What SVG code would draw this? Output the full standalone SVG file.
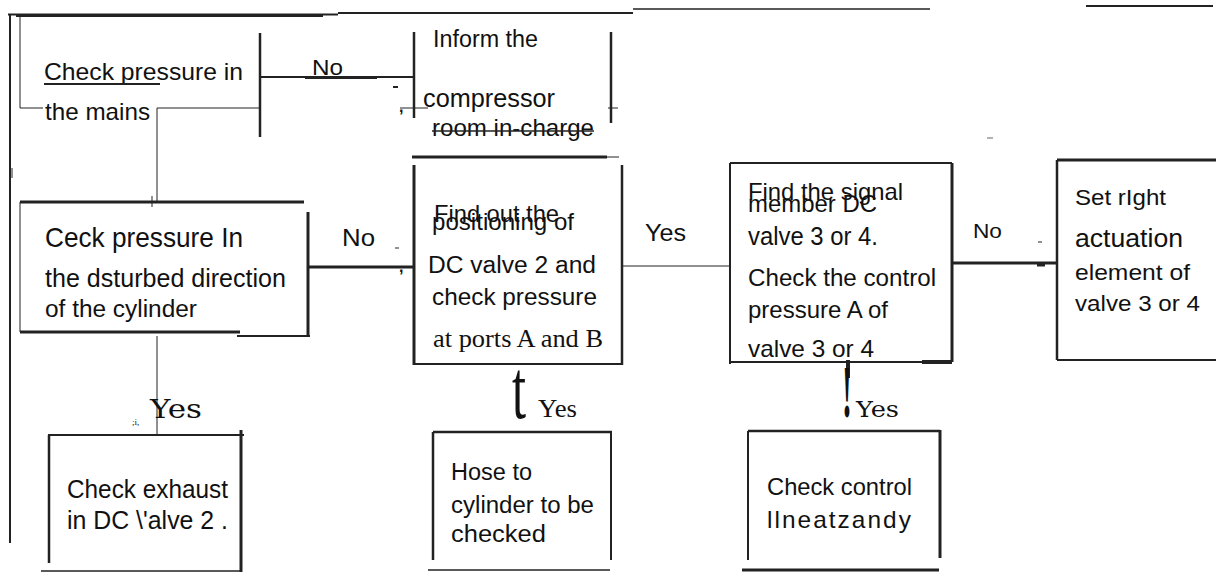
<svg xmlns="http://www.w3.org/2000/svg" width="1218" height="572" viewBox="0 0 1218 572">
  <style>
    .ln { stroke: #222; fill: none; stroke-linecap: butt; }
    .t { font-family: "Liberation Sans", Arial, sans-serif; fill: #111; }
    .s { font-family: "Liberation Serif", "Times New Roman", serif; fill: #111; }
    .m { font-family: "DejaVu Serif", "Liberation Serif", serif; fill: #111; }
  </style>
  <rect width="1218" height="572" fill="#fff"/>

  <!-- connectors and frame lines -->
  <g id="connectors" class="ln">
    <path d="M8 14.5 H338" stroke-width="2"/>
    <path d="M16 15.5 H323" stroke-width="3"/>
    <path d="M338 13 H633" stroke-width="2"/>
    <path d="M633 9 H930" stroke-width="1.5"/>
    <path d="M1086 6 H1213" stroke-width="2"/>
    <path d="M10 14 V543" stroke-width="2"/>
    <path d="M12 168 V178" stroke-width="1"/>
    <!-- mains loop -->
    <path d="M20 16 V108 H43" stroke-width="1"/>
    <path d="M260 108 H157 V202" stroke-width="1"/>
    <path d="M152 196 V207" stroke-width="1"/>
    <!-- No: mains to inform -->
    <path d="M260 77 H414" stroke-width="2"/>
    <path d="M305 77.5 H377" stroke-width="3"/>
    <path d="M400 108 H428" stroke-width="1"/>
    <path d="M608 108 H618" stroke-width="1"/>
    <path d="M393 87 H398" stroke-width="2"/>
    <!-- No: ceck to findout -->
    <path d="M308 267 H414" stroke-width="3"/>
    <path d="M395 248 H399" stroke-width="1"/>
    <!-- Yes: ceck to exhaust -->
    <path d="M157 336 V435" stroke-width="1"/>
    <!-- Yes: findout to signal -->
    <path d="M622 266 H730" stroke-width="1"/>
    <!-- No: signal to setright -->
    <path d="M952 263 H1057" stroke-width="3"/>
    <path d="M1037 265 H1045" stroke-width="3"/>
    <path d="M1038 242 H1042" stroke-width="1"/>
    <path d="M987 138 H993" stroke="#999" stroke-width="1.5"/>
    <!-- signal to control -->
    <path d="M848 360 V378" stroke-width="4"/>
  </g>

  <g id="node-mains">
    <path class="ln" d="M260 33 V137" stroke-width="2.5"/>
    <text class="t" x="44" y="80" font-size="24" textLength="199" lengthAdjust="spacingAndGlyphs">Check pressure in</text>
    <path class="ln" d="M44 84 H160" stroke-width="2"/>
    <text class="t" x="45" y="120" font-size="24" textLength="105" lengthAdjust="spacingAndGlyphs">the mains</text>
    <text class="t" x="312" y="75" font-size="22" textLength="31" lengthAdjust="spacingAndGlyphs">No</text>
    <text class="t" x="399" y="112" font-size="16" font-weight="bold">,</text>
  </g>

  <g id="node-inform">
    <path class="ln" d="M414 32 V118" stroke-width="2.5"/>
    <path class="ln" d="M611 32 V123" stroke-width="2.5"/>
    <path class="ln" d="M412 157 H607" stroke-width="3" stroke="#000"/>
    <path class="ln" d="M607 157 H619" stroke-width="1"/>
    <text class="t" x="433" y="47" font-size="23" textLength="105" lengthAdjust="spacingAndGlyphs">Inform the</text>
    <text class="t" x="423" y="107" font-size="25" fill="#333" textLength="132" lengthAdjust="spacingAndGlyphs">compressor</text>
    <text class="t" x="432" y="136" font-size="24" textLength="162" lengthAdjust="spacingAndGlyphs">room in-charge</text>
    <path class="ln" d="M432 131 H594" stroke-width="1.5"/>
  </g>

  <g id="node-ceck">
    <path class="ln" d="M20 202 H304" stroke-width="3"/>
    <path class="ln" d="M20 202 V332" stroke-width="1"/>
    <path class="ln" d="M20 332 H240" stroke-width="3"/>
    <path class="ln" d="M237 336 H310" stroke-width="2"/>
    <path class="ln" d="M308 212 V337" stroke-width="3"/>
    <text class="t" x="45" y="247" font-size="28" textLength="198" lengthAdjust="spacingAndGlyphs">Ceck pressure In</text>
    <text class="t" x="45" y="287" font-size="25" textLength="241" lengthAdjust="spacingAndGlyphs">the dsturbed direction</text>
    <text class="t" x="45" y="317" font-size="23" textLength="152" lengthAdjust="spacingAndGlyphs">of the cylinder</text>
    <text class="t" x="342" y="246" font-size="24" textLength="33" lengthAdjust="spacingAndGlyphs">No</text>
    <text class="t" x="399" y="272" font-size="16" font-weight="bold">,</text>
  </g>

  <g id="node-findout">
    <path class="ln" d="M414 165 V365" stroke-width="3"/>
    <path class="ln" d="M622 165 V365" stroke-width="2.5"/>
    <path class="ln" d="M414 364 H622" stroke-width="2"/>
    <text class="t" x="434" y="222" font-size="24" textLength="125" lengthAdjust="spacingAndGlyphs">Find out the</text>
    <text class="t" x="432" y="230" font-size="24" textLength="142" lengthAdjust="spacingAndGlyphs">positioning of</text>
    <text class="t" x="428" y="273" font-size="23" textLength="168" lengthAdjust="spacingAndGlyphs">DC valve 2 and</text>
    <text class="t" x="432" y="305" font-size="24" textLength="165" lengthAdjust="spacingAndGlyphs">check pressure</text>
    <text class="s" x="433" y="347" font-size="25" textLength="170" lengthAdjust="spacingAndGlyphs">at ports A and B</text>
    <text class="t" x="645" y="241" font-size="23" textLength="41" lengthAdjust="spacingAndGlyphs">Yes</text>
  </g>

  <g id="node-signal">
    <path class="ln" d="M730 163 V364" stroke-width="2"/>
    <path class="ln" d="M730 163 H952" stroke-width="2"/>
    <path class="ln" d="M952 163 V362" stroke-width="3"/>
    <path class="ln" d="M730 362 H952" stroke-width="2"/>
    <path class="ln" d="M922 362 H952" stroke-width="4" stroke="#000"/>
    <text class="t" x="748" y="200" font-size="24" textLength="155" lengthAdjust="spacingAndGlyphs">Find the signal</text>
    <text class="t" x="748" y="212" font-size="24" textLength="129" lengthAdjust="spacingAndGlyphs">member DC</text>
    <text class="t" x="748" y="245" font-size="25" textLength="130" lengthAdjust="spacingAndGlyphs">valve 3 or 4.</text>
    <text class="t" x="748" y="286" font-size="23" textLength="188" lengthAdjust="spacingAndGlyphs">Check the control</text>
    <text class="t" x="748" y="318" font-size="24" textLength="140" lengthAdjust="spacingAndGlyphs">pressure A of</text>
    <text class="t" x="748" y="357" font-size="24" textLength="126" lengthAdjust="spacingAndGlyphs">valve 3 or 4</text>
    <text class="t" x="973" y="238" font-size="21" textLength="29" lengthAdjust="spacingAndGlyphs">No</text>
  </g>

  <g id="node-setright">
    <path class="ln" d="M1057 160 V360" stroke-width="2.5"/>
    <path class="ln" d="M1057 160 H1216" stroke-width="3"/>
    <path class="ln" d="M1057 360 H1216" stroke-width="2"/>
    <text class="t" x="1075" y="205" font-size="22" textLength="91" lengthAdjust="spacingAndGlyphs">Set rIght</text>
    <text class="t" x="1075" y="247" font-size="26" textLength="108" lengthAdjust="spacingAndGlyphs">actuation</text>
    <text class="t" x="1075" y="280" font-size="22" fill="#333" textLength="115" lengthAdjust="spacingAndGlyphs">element  of</text>
    <text class="t" x="1075" y="311" font-size="22" fill="#333" textLength="125" lengthAdjust="spacingAndGlyphs">valve 3 or 4</text>
  </g>

  <g id="node-exhaust">
    <path class="ln" d="M48 435 H244" stroke-width="2"/>
    <path class="ln" d="M49 435 V563" stroke-width="2.5"/>
    <path class="ln" d="M241 430 V572" stroke-width="3"/>
    <path class="ln" d="M41 571 H241" stroke-width="1.5" stroke="#999"/>
    <text class="m" x="150" y="418" font-size="26" font-weight="300" textLength="52" lengthAdjust="spacingAndGlyphs">Yes</text>
    <text class="s" x="132" y="425" font-size="9">;i,</text>
    <text class="t" x="67" y="498" font-size="25" textLength="161" lengthAdjust="spacingAndGlyphs">Check exhaust</text>
    <text class="t" x="67" y="529" font-size="25" textLength="161" lengthAdjust="spacingAndGlyphs">in DC \'alve 2  .</text>
  </g>

  <g id="node-hose">
    <path class="ln" d="M433 432 H612" stroke-width="2.5"/>
    <path class="ln" d="M433 432 V560" stroke-width="2.5"/>
    <path class="ln" d="M611 432 V560" stroke-width="2"/>
    <path class="ln" d="M428 570 H610" stroke-width="1.5" stroke="#999"/>
    <text class="s" x="512" y="418" font-size="85" textLength="14" lengthAdjust="spacingAndGlyphs">t</text>
    <text class="s" x="538" y="417" font-size="26" textLength="39" lengthAdjust="spacingAndGlyphs">Yes</text>
    <text class="t" x="451" y="480" font-size="23" textLength="81" lengthAdjust="spacingAndGlyphs">Hose to</text>
    <text class="t" x="451" y="513" font-size="23" textLength="143" lengthAdjust="spacingAndGlyphs">cylinder to be</text>
    <text class="t" x="451" y="542" font-size="23" textLength="95" lengthAdjust="spacingAndGlyphs">checked</text>
  </g>

  <g id="node-control">
    <path class="ln" d="M748 431 H940" stroke-width="2.5"/>
    <path class="ln" d="M748 431 V560" stroke-width="2"/>
    <path class="ln" d="M940 430 V558" stroke-width="3"/>
    <path class="ln" d="M742 570 H939" stroke-width="3" stroke="#000"/>
    <text class="s" x="842" y="417" font-size="75" font-weight="bold" textLength="10" lengthAdjust="spacingAndGlyphs">!</text>
    <text class="m" x="856" y="417" font-size="22" textLength="43" lengthAdjust="spacingAndGlyphs">Yes</text>
    <text class="t" x="767" y="495" font-size="24" textLength="145" lengthAdjust="spacingAndGlyphs">Check control</text>
    <text class="t" x="767" y="528" font-size="24" letter-spacing="2" textLength="146" lengthAdjust="spacingAndGlyphs">llneatzandy</text>
  </g>
</svg>
